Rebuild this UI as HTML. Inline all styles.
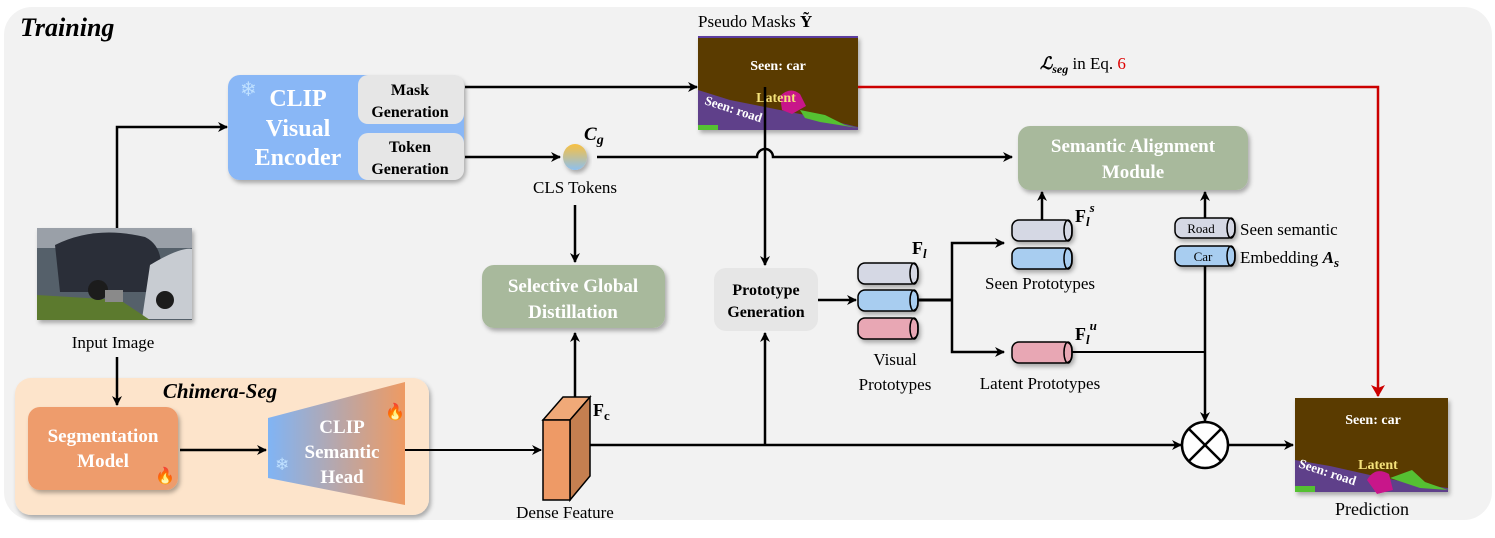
<!DOCTYPE html>
<html><head><meta charset="utf-8"><style>
html,body{margin:0;padding:0;background:#fff;}
svg{display:block;font-family:"Liberation Serif",serif;}
</style></head><body>
<svg width="1495" height="538" viewBox="0 0 1495 538" xmlns="http://www.w3.org/2000/svg">
<defs>
<marker id="a" markerWidth="10" markerHeight="10" refX="9" refY="5" orient="auto" markerUnits="userSpaceOnUse"><path d="M0,0 L10,5 L0,10 L3,5 z" fill="#000"/></marker>
<marker id="r" markerWidth="12" markerHeight="14" refX="11" refY="7" orient="auto" markerUnits="userSpaceOnUse"><path d="M0,0 L12,7 L0,14 L3,7 z" fill="#c00"/></marker>
<linearGradient id="hg" x1="0" y1="0" x2="1" y2="0"><stop offset="0" stop-color="#80b4f5"/><stop offset="1" stop-color="#ee9a62"/></linearGradient>
<linearGradient id="cg" x1="0" y1="0" x2="0" y2="1"><stop offset="0" stop-color="#f8c040"/><stop offset="1" stop-color="#8ec0ee"/></linearGradient>
<filter id="s" x="-10%" y="-10%" width="130%" height="130%"><feDropShadow dx="2" dy="3" stdDeviation="2" flood-opacity="0.3"/></filter>
</defs>
<rect x="4" y="7" width="1488" height="513" rx="28" fill="#f2f2f2"/>
<text x="20" y="36" font-size="26" font-weight="bold" font-style="italic">Training</text>

<!-- CLIP visual encoder -->
<rect x="228" y="75" width="236" height="105" rx="12" fill="#89b7f6" filter="url(#s)"/>
<rect x="358" y="75" width="106" height="49" rx="10" fill="#e6e6e6"/>
<rect x="358" y="133" width="106" height="47" rx="10" fill="#e6e6e6"/>
<text x="240" y="96" font-size="20" fill="#bfe0ff">❄</text>
<g font-size="24" font-weight="bold" fill="#fff" text-anchor="middle"><text x="298" y="106">CLIP</text><text x="298" y="136">Visual</text><text x="298" y="165">Encoder</text></g>
<g font-size="16" font-weight="bold" text-anchor="middle"><text x="410" y="95">Mask</text><text x="410" y="117">Generation</text><text x="410" y="152">Token</text><text x="410" y="174">Generation</text></g>

<!-- pseudo mask -->
<text x="698" y="27" font-size="17">Pseudo Masks <tspan font-weight="bold">Ỹ</tspan></text>
<g filter="url(#s)">
<rect x="698" y="37" width="160" height="93" fill="#5a3a02"/>
<rect x="698" y="36" width="160" height="2" fill="#5b3ea0"/>
<polygon points="698,90 730,100 770,108 820,118 858,127 858,130 698,130" fill="#5f3f8a"/>
<polygon points="800,110 825,115 845,125 858,128 820,122 805,118" fill="#55c030"/>
<path d="M780,96 q10,-10 20,-2 l6,12 -14,8 -10,-4z" fill="#c8168a"/>
<rect x="698" y="125" width="20" height="5" fill="#55c030"/>
</g>
<text x="778" y="70" font-size="14" font-weight="bold" fill="#fff" text-anchor="middle">Seen: car</text>
<text x="776" y="102" font-size="14" font-weight="bold" fill="#f4e27a" text-anchor="middle">Latent</text>
<text x="704" y="104" font-size="13" font-weight="bold" fill="#fff" transform="rotate(18 704 104)">Seen: road</text>

<!-- red loss -->
<text x="1040" y="69" font-size="17"><tspan font-weight="bold" font-style="italic">ℒ</tspan><tspan font-style="italic" font-size="12" dy="4" font-weight="bold">seg</tspan><tspan dy="-4"> in Eq. </tspan><tspan fill="#d00">6</tspan></text>
<polyline points="858,87 1378,87 1378,396" fill="none" stroke="#c00" stroke-width="2.5" marker-end="url(#r)"/>

<!-- arrows top -->
<line x1="465" y1="87" x2="697" y2="87" stroke="#000" stroke-width="2.5" marker-end="url(#a)"/>
<line x1="465" y1="157" x2="560" y2="157" stroke="#000" stroke-width="2.5" marker-end="url(#a)"/>
<ellipse cx="575" cy="157" rx="12" ry="13" fill="url(#cg)" filter="url(#s)"/>
<text x="584" y="140" font-size="19" font-weight="bold" font-style="italic">C<tspan font-size="14" dy="4">g</tspan></text>
<text x="575" y="193" font-size="17" text-anchor="middle">CLS Tokens</text>
<path d="M597,157 L757,157 A8,8 0 0 1 773,157 L1012,157" fill="none" stroke="#000" stroke-width="2.5" marker-end="url(#a)"/>
<line x1="765" y1="87" x2="765" y2="265" stroke="#000" stroke-width="2.5" marker-end="url(#a)"/>
<line x1="575" y1="205" x2="575" y2="262" stroke="#000" stroke-width="2.5" marker-end="url(#a)"/>

<!-- semantic alignment -->
<rect x="1018" y="126" width="230" height="64" rx="12" fill="#a8b99c" filter="url(#s)"/>
<g font-size="19" font-weight="bold" fill="#fff" text-anchor="middle"><text x="1133" y="152">Semantic Alignment</text><text x="1133" y="178">Module</text></g>

<!-- selective global distillation -->
<rect x="482" y="265" width="183" height="63" rx="12" fill="#a8b99c" filter="url(#s)"/>
<g font-size="19" font-weight="bold" fill="#fff" text-anchor="middle"><text x="573" y="292">Selective Global</text><text x="573" y="318">Distillation</text></g>

<!-- prototype generation -->
<rect x="714" y="268" width="104" height="63" rx="12" fill="#e6e6e6"/>
<g font-size="16" font-weight="bold" text-anchor="middle"><text x="766" y="295">Prototype</text><text x="766" y="317">Generation</text></g>

<!-- input image -->
<g filter="url(#s)">
<rect x="37" y="228" width="155" height="92" fill="#55606a"/>
<rect x="37" y="228" width="155" height="20" fill="#9aa0a8"/>
<path d="M55,245 q40,-20 90,-8 q20,10 15,40 l-10,15 -90,0z" fill="#2a2f38"/>
<path d="M150,265 q30,-18 42,-16 v70 h-50z" fill="#c8ccd2"/>
<polygon points="37,295 120,300 150,320 37,320" fill="#5c7a2e"/>
<circle cx="98" cy="290" r="10" fill="#1a1a1a"/>
<circle cx="165" cy="300" r="9" fill="#1a1a1a"/>
<rect x="105" y="290" width="18" height="12" fill="#8a8a8a"/>
</g>
<polyline points="117,228 117,127 227,127" fill="none" stroke="#000" stroke-width="2.5" marker-end="url(#a)"/>
<text x="113" y="348" font-size="17" text-anchor="middle">Input Image</text>

<!-- chimera panel -->
<rect x="15" y="378" width="414" height="137" rx="16" fill="#fde4cb" filter="url(#s)"/>
<text x="220" y="398" font-size="21" font-weight="bold" font-style="italic" text-anchor="middle">Chimera-Seg</text>
<line x1="117" y1="357" x2="117" y2="405" stroke="#000" stroke-width="2.5" marker-end="url(#a)"/>
<rect x="28" y="407" width="150" height="83" rx="12" fill="#ee9c6c" filter="url(#s)"/>
<g font-size="19" font-weight="bold" fill="#fff" text-anchor="middle"><text x="103" y="442">Segmentation</text><text x="103" y="467">Model</text></g>
<text x="155" y="481" font-size="16">🔥</text>
<line x1="180" y1="450" x2="266" y2="450" stroke="#000" stroke-width="2.5" marker-end="url(#a)"/>
<polygon points="268,418 405,382 405,505 268,478" fill="url(#hg)"/>
<g font-size="19" font-weight="bold" fill="#fff" text-anchor="middle"><text x="342" y="433">CLIP</text><text x="342" y="458">Semantic</text><text x="342" y="483">Head</text></g>
<text x="275" y="470" font-size="17" fill="#bfe0ff">❄</text>
<text x="385" y="417" font-size="16">🔥</text>

<!-- dense feature -->
<line x1="405" y1="450" x2="541" y2="450" stroke="#000" stroke-width="2" marker-end="url(#a)"/>
<polygon points="543,420 563,397 590,397 570,420" fill="#f0a978" stroke="#000" stroke-width="1.5"/>
<polygon points="570,420 590,397 590,476 570,500" fill="#c57f50" stroke="#000" stroke-width="1.5"/>
<rect x="543" y="420" width="27" height="80" fill="#ee9a66" stroke="#000" stroke-width="1.5"/>
<text x="593" y="416" font-size="18" font-weight="bold">F<tspan font-size="13" dy="4">c</tspan></text>
<text x="565" y="518" font-size="17" text-anchor="middle">Dense Feature</text>
<line x1="575" y1="397" x2="575" y2="333" stroke="#000" stroke-width="2.5" marker-end="url(#a)"/>
<line x1="590" y1="445" x2="1181" y2="445" stroke="#000" stroke-width="2.5" marker-end="url(#a)"/>
<line x1="765" y1="445" x2="765" y2="333" stroke="#000" stroke-width="2.5" marker-end="url(#a)"/>

<!-- visual prototypes -->
<line x1="818" y1="300" x2="856" y2="300" stroke="#000" stroke-width="2.5" marker-end="url(#a)"/>
<g stroke="#000" stroke-width="1.5" filter="url(#s)">
<rect x="858" y="263" width="60" height="21" rx="7" fill="#d5d8e4"/>
<rect x="858" y="290" width="60" height="21" rx="7" fill="#a8cdf0"/>
<rect x="858" y="318" width="60" height="21" rx="7" fill="#e8a7b4"/>
<rect x="1012" y="220" width="60" height="21" rx="7" fill="#d5d8e4"/>
<rect x="1012" y="248" width="60" height="21" rx="7" fill="#a8cdf0"/>
<rect x="1012" y="342" width="60" height="21" rx="7" fill="#e8a7b4"/>
<rect x="1175" y="218" width="60" height="20" rx="7" fill="#d5d8e4"/>
<rect x="1175" y="246" width="60" height="20" rx="7" fill="#a8cdf0"/>
</g>
<g fill="none" stroke="#000" stroke-width="1.5">
<ellipse cx="914" cy="273.5" rx="4" ry="10.5"/><ellipse cx="914" cy="300.5" rx="4" ry="10.5"/><ellipse cx="914" cy="328.5" rx="4" ry="10.5"/>
<ellipse cx="1068" cy="230.5" rx="4" ry="10.5"/><ellipse cx="1068" cy="258.5" rx="4" ry="10.5"/><ellipse cx="1068" cy="352.5" rx="4" ry="10.5"/>
<ellipse cx="1231" cy="228" rx="4" ry="10"/><ellipse cx="1231" cy="256" rx="4" ry="10"/>
</g>
<text x="912" y="254" font-size="18" font-weight="bold">F<tspan font-size="13" dy="4" font-style="italic">l</tspan></text>
<text x="895" y="365" font-size="17" text-anchor="middle">Visual</text>
<text x="895" y="390" font-size="17" text-anchor="middle">Prototypes</text>
<line x1="918" y1="300" x2="952" y2="300" stroke="#000" stroke-width="3"/>
<polyline points="952,300 952,243 1004,243" fill="none" stroke="#000" stroke-width="2.5" marker-end="url(#a)"/>
<polyline points="952,300 952,352 1004,352" fill="none" stroke="#000" stroke-width="2.5" marker-end="url(#a)"/>
<text x="1075" y="222" font-size="18" font-weight="bold">F<tspan font-size="13" dy="4" font-style="italic">l</tspan><tspan font-size="13" dy="-14" font-style="italic">s</tspan></text>
<text x="1040" y="289" font-size="17" text-anchor="middle">Seen Prototypes</text>
<line x1="1042" y1="220" x2="1042" y2="192" stroke="#000" stroke-width="2.5" marker-end="url(#a)"/>
<text x="1075" y="340" font-size="18" font-weight="bold">F<tspan font-size="13" dy="4" font-style="italic">l</tspan><tspan font-size="13" dy="-14" font-style="italic">u</tspan></text>
<text x="1040" y="389" font-size="17" text-anchor="middle">Latent Prototypes</text>
<line x1="1072" y1="352" x2="1205" y2="352" stroke="#000" stroke-width="2"/>
<text x="1201" y="233" font-size="13" text-anchor="middle">Road</text>
<text x="1203" y="261" font-size="13" text-anchor="middle">Car</text>
<text x="1240" y="235" font-size="17">Seen semantic</text>
<text x="1240" y="263" font-size="17">Embedding <tspan font-weight="bold" font-style="italic">A</tspan><tspan font-weight="bold" font-style="italic" font-size="13" dy="4">s</tspan></text>
<line x1="1205" y1="218" x2="1205" y2="192" stroke="#000" stroke-width="2.5" marker-end="url(#a)"/>
<line x1="1205" y1="266" x2="1205" y2="421" stroke="#000" stroke-width="2.5" marker-end="url(#a)"/>

<!-- otimes -->
<ellipse cx="1205" cy="445" rx="23" ry="23" fill="#fff" stroke="#000" stroke-width="2.5"/>
<line x1="1189" y1="429" x2="1221" y2="461" stroke="#000" stroke-width="2.5"/>
<line x1="1221" y1="429" x2="1189" y2="461" stroke="#000" stroke-width="2.5"/>
<line x1="1228" y1="445" x2="1293" y2="445" stroke="#000" stroke-width="2.5" marker-end="url(#a)"/>

<!-- prediction -->
<g filter="url(#s)">
<rect x="1295" y="398" width="153" height="94" fill="#5a3a02"/>
<polygon points="1295,460 1330,466 1370,475 1410,483 1448,488 1448,492 1295,492" fill="#5f3f8a"/>
<polygon points="1390,478 1412,470 1425,482 1448,490 1420,488" fill="#55c030"/>
<path d="M1367,480 q8,-14 22,-6 l4,16 -16,4z" fill="#c8168a"/>
<rect x="1295" y="486" width="20" height="6" fill="#55c030"/>
</g>
<text x="1373" y="424" font-size="14" font-weight="bold" fill="#fff" text-anchor="middle">Seen: car</text>
<text x="1378" y="469" font-size="14" font-weight="bold" fill="#f4e27a" text-anchor="middle">Latent</text>
<text x="1298" y="467" font-size="13" font-weight="bold" fill="#fff" transform="rotate(18 1298 467)">Seen: road</text>
<text x="1372" y="515" font-size="18" text-anchor="middle">Prediction</text>
</svg>
</body></html>
